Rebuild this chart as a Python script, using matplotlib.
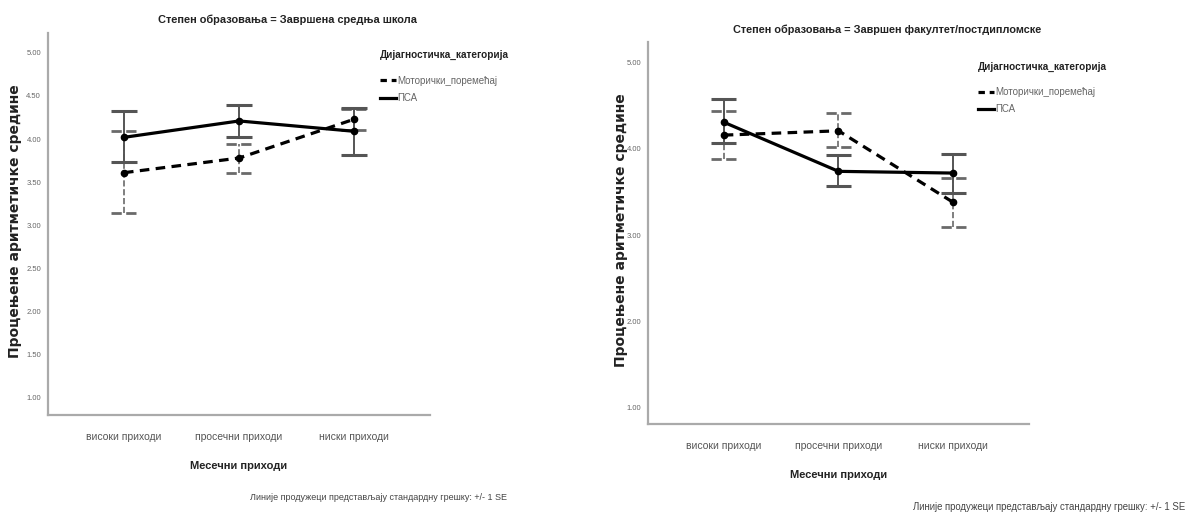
import numpy as np
import matplotlib.pyplot as plt
from matplotlib.lines import Line2D

# data
categories = ['високи приходи', 'просечни приходи', 'ниски приходи']
series_names = ['Моторички_поремећај', 'ПСА']

# panel 1: Завршена средња школа
sec_motor_mean = [3.61, 3.78, 4.23]
sec_motor_lo = [3.14, 3.61, 4.11]
sec_motor_hi = [4.09, 3.94, 4.35]
sec_psa_mean = [4.02, 4.21, 4.09]
sec_psa_lo = [3.73, 4.02, 3.82]
sec_psa_hi = [4.32, 4.40, 4.36]

# panel 2: Завршен факултет/постдипломске
fac_motor_mean = [4.16, 4.21, 3.38]
fac_motor_lo = [3.88, 4.02, 3.10]
fac_motor_hi = [4.44, 4.42, 3.66]
fac_psa_mean = [4.31, 3.74, 3.72]
fac_psa_lo = [4.07, 3.57, 3.49]
fac_psa_hi = [4.58, 3.93, 3.94]

plt.rcParams['font.family'] = ['Liberation Sans', 'DejaVu Sans']

fig = plt.figure(figsize=(11.89, 5.14), dpi=100)


def draw_panel(ax, motor, psa, ticks, ylim):
    x = np.arange(len(categories))
    cw = 0.11  # cap half width in data units
    for (mean, lo, hi), ls, col, lw in [(motor, '--', '#6a6a6a', 1.2), (psa, '-', '#555555', 1.4)]:
        ax.vlines(x, lo, hi, colors=col, linestyles=ls, linewidth=lw, zorder=2)
        ax.hlines(lo, x - cw, x + cw, colors=col, linestyles=ls, linewidth=lw + 0.8, zorder=2)
        ax.hlines(hi, x - cw, x + cw, colors=col, linestyles=ls, linewidth=lw + 0.8, zorder=2)
        ax.plot(x, mean, color='black', linestyle=ls, linewidth=2.3, marker='o',
                markersize=4.5, zorder=3, dashes=(3, 2) if ls == '--' else (None, None))
    ax.set_xlim(-0.66, 2.66)
    ax.set_ylim(*ylim)
    ax.set_xticks(x)
    ax.set_xticklabels(categories, fontsize=7.5, color='#555555')
    ax.set_yticks(ticks)
    ax.set_yticklabels(['%.2f' % t for t in ticks], fontsize=5.5, color='#666666')
    ax.tick_params(length=0)
    ax.tick_params(axis='x', pad=12)
    ax.tick_params(axis='y', pad=5)
    for s in ['top', 'right']:
        ax.spines[s].set_visible(False)
    for s in ['left', 'bottom']:
        ax.spines[s].set_color('#aaaaaa')
        ax.spines[s].set_linewidth(1.6)


ax1 = fig.add_axes([0.0404, 0.1926, 0.3213, 0.7432])
draw_panel(ax1, (sec_motor_mean, sec_motor_lo, sec_motor_hi),
           (sec_psa_mean, sec_psa_lo, sec_psa_hi),
           np.arange(1.0, 5.01, 0.5), (0.80, 5.23))

ax2 = fig.add_axes([0.545, 0.1751, 0.3204, 0.7432])
draw_panel(ax2, (fac_motor_mean, fac_motor_lo, fac_motor_hi),
           (fac_psa_mean, fac_psa_lo, fac_psa_hi),
           np.arange(1.0, 5.01, 1.0), (0.81, 5.24))

# titles
fig.text(0.2414, 0.961, 'Степен образовања = Завршена средња школа', ha='center', va='center',
         fontsize=7.9, fontweight='bold', color='#222222')
fig.text(0.746, 0.942, 'Степен образовања = Завршен факултет/постдипломске', ha='center', va='center',
         fontsize=7.8, fontweight='bold', color='#222222')

# axis labels
ylab = 'Процењене аритметичке средине'
fig.text(0.0125, 0.570, ylab, rotation=90, ha='center', va='center', fontsize=10,
         fontweight='bold', family=['DejaVu Sans'], color='#222222')
fig.text(0.5225, 0.553, ylab, rotation=90, ha='center', va='center', fontsize=10,
         fontweight='bold', family=['DejaVu Sans'], color='#222222')
fig.text(0.201, 0.093, 'Месечни приходи', ha='center', va='center', fontsize=8.0,
         fontweight='bold', color='#222222')
fig.text(0.7056, 0.076, 'Месечни приходи', ha='center', va='center', fontsize=8.0,
         fontweight='bold', color='#222222')

# legends
handles = [Line2D([], [], color='black', linestyle='--', linewidth=2.3, dashes=(2, 1.5)),
           Line2D([], [], color='black', linestyle='-', linewidth=2.3)]
for lx, ly in [(0.3196, 0.902), (0.8225, 0.880)]:
    leg = fig.legend(handles, series_names, loc='upper left', bbox_to_anchor=(lx, ly),
                     frameon=False, fontsize=7, handlelength=1.6, handletextpad=0.15,
                     labelspacing=0.75, borderaxespad=0, borderpad=0,
                     title='Дијагностичка_категорија', alignment='left')
    leg.get_title().set_fontweight('bold')
    leg.get_title().set_fontsize(7.2)
    leg.get_title().set_color('#222222')
    for t in leg.get_texts():
        t.set_color('#666666')
    leg._legend_box.sep = 11

# footnotes
note = 'Линије продужеци представљају стандардну грешку: +/- 1 SE'
fig.text(0.21, 0.033, note, ha='left', va='center', fontsize=6.45, color='#444444')
fig.text(0.768, 0.014, note, ha='left', va='center', fontsize=6.9, color='#444444')

fig.savefig('out.png', dpi=100)
